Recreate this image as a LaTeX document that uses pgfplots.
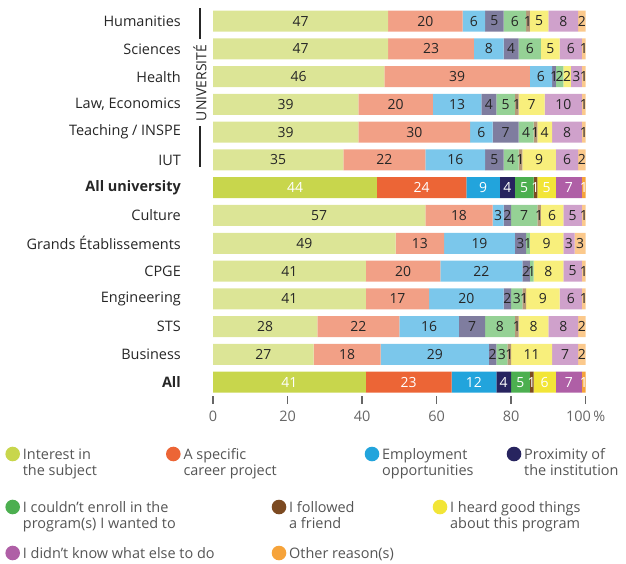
\documentclass[border=0pt]{standalone}
\usepackage{pgfplots}
\pgfplotsset{compat=1.18}
\usepackage{pgfplotstable}
\usepackage{fontspec}
\setmainfont{Open Sans}

% pale shades for the individual institution types
\definecolor{intL}{HTML}{DCE596}
\definecolor{carL}{HTML}{F2A086}
\definecolor{empL}{HTML}{7BC7EB}
\definecolor{proL}{HTML}{7F7D9F}
\definecolor{enrL}{HTML}{95D195}
\definecolor{friL}{HTML}{B69878}
\definecolor{heaL}{HTML}{F8EF7C}
\definecolor{dknL}{HTML}{CFA1CB}
\definecolor{othL}{HTML}{FBC98C}
% full shades for the two aggregate rows and the legend
\definecolor{intD}{HTML}{C8D64C}
\definecolor{carD}{HTML}{EC6536}
\definecolor{empD}{HTML}{22A4DC}
\definecolor{proD}{HTML}{27245F}
\definecolor{enrD}{HTML}{4CAF50}
\definecolor{friD}{HTML}{7C4A21}
\definecolor{heaD}{HTML}{F2E537}
\definecolor{dknD}{HTML}{AF5FA6}
\definecolor{othD}{HTML}{F6A33A}
\definecolor{txt}{HTML}{262626}
\definecolor{legtxt}{HTML}{555555}
\definecolor{ticktxt}{HTML}{666666}

% row = position from the bottom (0 = All, 13 = Humanities)
\pgfplotstableread{
row int car emp pro enr fri hea dkn oth
13  47  20  6   5   6   1   5   8   2
12  47  23  8   4   6   0   5   6   1
11  46  39  6   1   2   0   2   3   1
10  39  20  13  4   5   1   7   10  1
9   39  30  6   7   4   1   4   8   1
8   35  22  16  5   4   1   9   6   2
6   57  18  3   2   7   1   6   5   1
5   49  13  19  3   1   0   9   3   3
4   41  20  22  2   1   0   8   5   1
3   41  17  20  2   3   1   9   6   1
2   28  22  16  7   8   1   8   8   2
1   27  18  29  2   3   1   11  7   2
}\groups

\pgfplotstableread{
row int car emp pro enr fri hea dkn oth
7   44  24  9   4   5   1   5   7   1
0   41  23  12  4   5   1   6   7   1
}\totals

\pgfplotsset{
  chartbase/.style={
    scale only axis, width=372.7bp, height=388.8bp,
    at={(213bp,-396bp)}, anchor=south west,
    xmin=0, xmax=100, ymin=-0.5, ymax=13.5,
    xbar stacked, bar width=21bp,
    axis line style={draw=none},
    /pgf/number format/assume math mode=true,
    point meta=explicit,
    nodes near coords={\pgfmathfloatifflags{\pgfplotspointmeta}{0}{}{\pgfmathprintnumber{\pgfplotspointmeta}}},
    every node near coord/.append style={font=\fontsize{14}{16}\selectfont, inner sep=0pt},
  },
}

\newcommand{\legitem}[5]{% x, y (circle centre), colour, first line, second line
  \fill[#3] (#1bp,-#2bp) circle[radius=7.3bp];
  \node[anchor=base west, inner sep=0pt, text=legtxt,
        font=\fontsize{14.5}{16.5}\selectfont] at (#1bp+10bp,-#2bp-5bp) {#4};
  \node[anchor=base west, inner sep=0pt, text=legtxt,
        font=\fontsize{14.5}{16.5}\selectfont] at (#1bp+10bp,-#2bp-21.5bp) {#5};
}

\begin{document}
\begin{tikzpicture}
\useasboundingbox (0,0) rectangle (626bp,-564bp);

\begin{axis}[chartbase,
    ytick={0,...,13},
    yticklabels={\textbf{All},Business,STS,Engineering,CPGE,Grands Établissements,Culture,\textbf{All university},IUT,Teaching / INSPE,{Law, Economics},Health,Sciences,Humanities},
    ytick style={draw=none},
    yticklabel style={anchor=east, inner sep=0pt, xshift=-24bp, text=txt, font=\fontsize{14.5}{16}\selectfont},
    xtick={0,20,40,60,80,100},
    xticklabels={0,20,40,60,80,100\,\%},
    xtick pos=bottom, tick align=outside, major tick length=8bp,
    x tick style={ticktxt, line width=1.5bp},
    xticklabel style={text=ticktxt, yshift=-3bp, font=\fontsize{14.5}{16}\selectfont},
    every node near coord/.append style={text=txt},
  ]
  \addplot[fill=intL, draw=none] table[x=int, y=row, meta=int] {\groups};
  \addplot[fill=carL, draw=none] table[x=car, y=row, meta=car] {\groups};
  \addplot[fill=empL, draw=none] table[x=emp, y=row, meta=emp] {\groups};
  \addplot[fill=proL, draw=none] table[x=pro, y=row, meta=pro] {\groups};
  \addplot[fill=enrL, draw=none] table[x=enr, y=row, meta=enr] {\groups};
  \addplot[fill=friL, draw=none] table[x=fri, y=row, meta=fri] {\groups};
  \addplot[fill=heaL, draw=none] table[x=hea, y=row, meta=hea] {\groups};
  \addplot[fill=dknL, draw=none] table[x=dkn, y=row, meta=dkn] {\groups};
  \addplot[fill=othL, draw=none] table[x=oth, y=row, meta=oth] {\groups};
\end{axis}

\begin{axis}[chartbase, hide axis,
    every node near coord/.append style={text=white},
  ]
  \addplot[fill=intD, draw=none] table[x=int, y=row, meta=int] {\totals};
  \addplot[fill=carD, draw=none] table[x=car, y=row, meta=car] {\totals};
  \addplot[fill=empD, draw=none] table[x=emp, y=row, meta=emp] {\totals};
  \addplot[fill=proD, draw=none] table[x=pro, y=row, meta=pro] {\totals};
  \addplot[fill=enrD, draw=none] table[x=enr, y=row, meta=enr] {\totals};
  \addplot[fill=friD, draw=none] table[x=fri, y=row, meta=fri] {\totals};
  \addplot[fill=heaD, draw=none] table[x=hea, y=row, meta=hea] {\totals};
  \addplot[fill=dknD, draw=none] table[x=dkn, y=row, meta=dkn] {\totals};
  \addplot[fill=othD, draw=none] table[x=oth, y=row, meta=oth] {\totals};
\end{axis}

% bracket grouping the university rows
\draw[txt, line width=1.1bp] (200bp,-8bp) -- (200bp,-39bp);
\draw[txt, line width=1.1bp] (200bp,-126bp) -- (200bp,-167bp);
\node[rotate=90, inner sep=0pt, text=txt, font=\fontsize{14}{16}\selectfont] at (200bp,-83bp) {UNIVERSITÉ};

% legend
\legitem{12.7}{454}{intD}{Interest in}{the subject}
\legitem{173.3}{454}{carD}{A specific}{career project}
\legitem{372}{454}{empD}{Employment}{opportunities}
\legitem{514}{454}{proD}{Proximity of}{the institution}
\legitem{12.7}{507}{enrD}{I couldn’t enroll in the}{program(s) I wanted to}
\legitem{279}{507}{friD}{I followed}{a friend}
\legitem{440}{507}{heaD}{I heard good things}{about this program}
\legitem{12.7}{553}{dknD}{I didn’t know what else to do}{}
\legitem{279}{553}{othD}{Other reason(s)}{}
\end{tikzpicture}
\end{document}
